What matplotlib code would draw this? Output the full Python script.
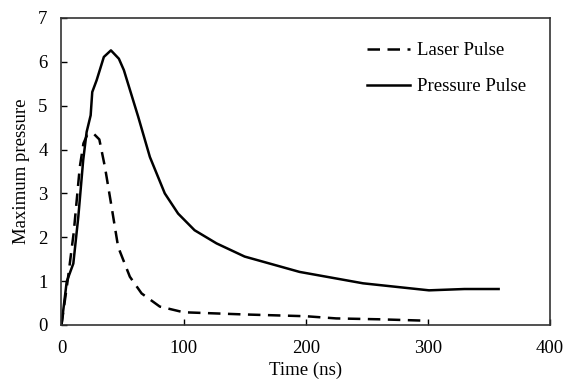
import matplotlib
matplotlib.use("Agg")
import matplotlib.pyplot as plt

plt.rcParams['font.family'] = ['Liberation Serif', 'DejaVu Serif']
plt.rcParams['font.size'] = 13.5

laser_t = [0, 5, 10, 15, 18, 21, 26, 31, 35.6, 41, 46.4, 56, 65.6, 80.5, 100, 150, 200, 225, 260, 296, 300]
laser_p = [0, 1.0, 2.1, 3.6, 4.14, 4.33, 4.37, 4.23, 3.6, 2.7, 1.78, 1.1, 0.72, 0.42, 0.29, 0.24, 0.2, 0.15, 0.13, 0.1, 0.08]

press_t = [0, 4.3, 9.7, 13.8, 17.8, 20.6, 23.9, 25.2, 28.8, 34.7, 40.5, 47, 51.1, 62.8, 72.4, 84.6, 95.5, 109, 127, 150, 195, 247, 274, 301, 330, 358]
press_p = [0, 0.99, 1.4, 2.47, 3.76, 4.4, 4.78, 5.31, 5.58, 6.11, 6.26, 6.07, 5.81, 4.75, 3.83, 3.0, 2.54, 2.16, 1.86, 1.56, 1.21, 0.95, 0.87, 0.79, 0.82, 0.82]

fig = plt.figure(figsize=(5.64, 3.81), dpi=100)
ax = fig.add_axes([0.109, 0.147, 0.866, 0.806])
ax.plot(laser_t, laser_p, color='black', lw=1.8, ls=(0, (5, 3)), label='Laser Pulse')
ax.plot(press_t, press_p, color='black', lw=1.8, label='Pressure Pulse')
ax.set_xlim(0, 400)
ax.set_ylim(0, 7)
ax.set_xticks([0, 100, 200, 300, 400])
ax.set_yticks(range(0, 8))
ax.tick_params(direction='in', length=4, width=1)
ax.tick_params(axis='x', pad=11)
ax.tick_params(axis='y', pad=10)
for s in ax.spines.values():
    s.set_color('#333333')
    s.set_linewidth(1.2)
ax.set_xlabel('Time (ns)', labelpad=3)
ax.set_ylabel('Maximum pressure', labelpad=6)
ax.legend(loc='upper left', bbox_to_anchor=(0.61, 0.945), frameon=False,
          handlelength=2.3, handletextpad=0.35, labelspacing=1.0, borderaxespad=0)
fig.savefig('out.png', dpi=100)
